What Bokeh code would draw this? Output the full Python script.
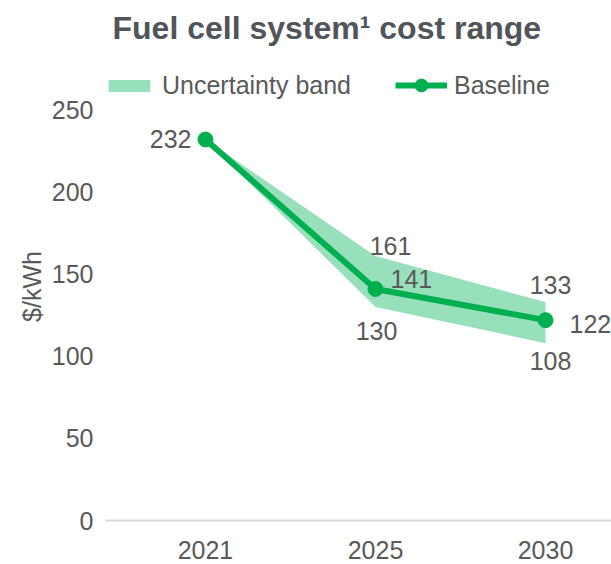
import math
from bokeh.plotting import figure
from bokeh.models import Range1d, FixedTicker, Label, Legend, LegendItem
from bokeh.embed import file_html
from bokeh.resources import INLINE

# ---- data ----
years = ["2021", "2025", "2030"]
baseline = [232, 141, 122]
band_low = [232, 130, 108]
band_high = [232, 161, 133]
y_ticks = [0, 50, 100, 150, 200, 250]

# ---- style ----
GREEN = "#00b050"
BAND = "#98e0bc"
TEXT = "#595959"
TITLE = "#515459"
FONT = "Liberation Sans"
FS = "25px"

xs = list(range(len(years)))
PX_X = 170.0   # px per x unit
PX_Y = 1.642   # px per y unit

p = figure(width=611, height=564, output_backend="svg", toolbar_location=None,
           x_range=Range1d(-0.588, 2.388), y_range=Range1d(0, 285),
           min_border_left=105, min_border_right=0, min_border_top=52, min_border_bottom=44,
           title="Fuel cell system\u00b9 cost range")
p.outline_line_color = None
p.grid.visible = False
p.background_fill_color = "white"
p.border_fill_color = "white"

p.title.align = "left"
p.title.offset = 7
p.title.text_font = FONT
p.title.text_font_size = "32px"
p.title.text_font_style = "bold"
p.title.text_color = TITLE
p.title.standoff = 14

band = p.varea(x=xs, y1=band_low, y2=band_high, fill_color=BAND, fill_alpha=1.0)
line = p.line(xs, baseline, line_color=GREEN, line_width=6)
dots = p.scatter(xs, baseline, size=15, fill_color=GREEN, line_color=GREEN)

# axes
p.xaxis.ticker = FixedTicker(ticks=xs)
p.xaxis.major_label_overrides = {i: y for i, y in enumerate(years)}
p.xaxis.axis_line_color = "#d9d9d9"
p.xaxis.axis_line_width = 2
p.xaxis.major_tick_line_color = None
p.xaxis.minor_tick_line_color = None
p.xaxis.major_label_standoff = 14
p.yaxis.ticker = FixedTicker(ticks=y_ticks)
p.yaxis.axis_line_color = None
p.yaxis.major_tick_line_color = None
p.yaxis.minor_tick_line_color = None
p.yaxis.major_label_standoff = 6
p.yaxis.axis_label = "$/kWh"
p.yaxis.axis_label_standoff = 3
p.yaxis.axis_label_text_font = FONT
p.yaxis.axis_label_text_font_size = FS
p.yaxis.axis_label_text_font_style = "normal"
p.yaxis.axis_label_text_color = TEXT
for ax in (p.xaxis, p.yaxis):
    ax.major_label_text_font = FONT
    ax.major_label_text_font_size = FS
    ax.major_label_text_color = TEXT

# data labels: (x index, value, dx px, dy px (up), align)
labels = [
    (0, baseline[0], -14, 1, "right"),
    (1, band_high[1], 15, 10, "center"),
    (1, baseline[1], 15, 10, "left"),
    (1, band_low[1], 1, -24, "center"),
    (2, band_high[2], 5, 17, "center"),
    (2, baseline[2], 24, -4, "left"),
    (2, band_low[2], 5, -18, "center"),
]
for xi, v, dx, dy, al in labels:
    p.add_layout(Label(x=xi + dx / PX_X, y=v + dy / PX_Y, text=str(v),
                       text_align=al, text_baseline="middle",
                       text_font=FONT, text_font_size=FS, text_color=TEXT))

legend_kw = dict(orientation="horizontal", glyph_width=52, label_standoff=7,
                 padding=0, margin=0, border_line_color=None, background_fill_alpha=0,
                 label_text_font=FONT, label_text_font_size=FS, label_text_color=TEXT)
legend1 = Legend(items=[LegendItem(label="Uncertainty band", renderers=[band])],
                 location=(-2, 420), glyph_height=15, **legend_kw)
legend2 = Legend(items=[LegendItem(label="Baseline", renderers=[line, dots])],
                 location=(290, 419), glyph_height=32, **legend_kw)
p.add_layout(legend1)
p.add_layout(legend2)

open("out.html", "w").write(file_html(p, INLINE))
